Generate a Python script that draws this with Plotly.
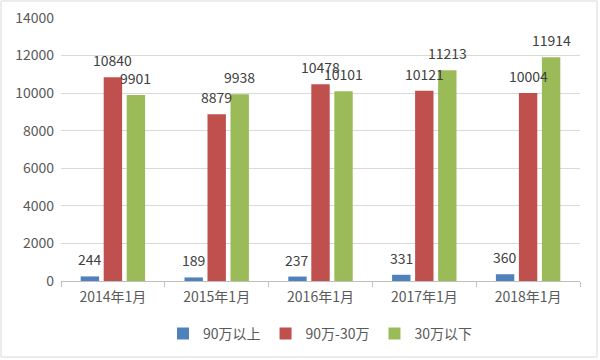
import plotly.graph_objects as go

categories = ["2014年1月", "2015年1月", "2016年1月", "2017年1月", "2018年1月"]
above_90 = [244, 189, 237, 331, 360]
mid_90_30 = [10840, 8879, 10478, 10121, 10004]
below_30 = [9901, 9938, 10101, 11213, 11914]
series_names = ["90万以上", "90万-30万", "30万以下"]
colors = ["#4F81BD", "#C0504D", "#9BBB59"]

W, H = 600, 360
ml, mr, mt, mb = 61, 20, 18, 79
font = "Noto Sans CJK SC, Noto Sans, sans-serif"
fs = 14
bargap, bargroupgap = 0.335, 0.2

pw = W - ml - mr
ph = H - mt - mb
slot_px = (1 - bargap) / 3 * pw / len(categories)

fig = go.Figure()
all_series = [above_90, mid_90_30, below_30]
for name, vals, c in zip(series_names, all_series, colors):
    fig.add_trace(go.Bar(
        x=categories, y=vals, name=name,
        marker=dict(color=c, line=dict(width=0)),
    ))

# data labels drawn on top of all bars
for si, vals in enumerate(all_series):
    for cat, v in zip(categories, vals):
        fig.add_annotation(x=cat, y=v, xref="x", yref="y", text=str(v),
                           showarrow=False, yanchor="bottom", xanchor="center",
                           xshift=(si - 1) * slot_px, yshift=5,
                           font=dict(size=fs, color="#404040", family=font))

fig.add_shape(type="rect", xref="paper", yref="paper",
              x0=(1 - ml) / pw, x1=(597 - ml) / pw,
              y0=-(357 - (H - mb)) / ph, y1=1 + (mt - 1) / ph,
              line=dict(color="#D9D9D9", width=1), layer="below")

fig.update_layout(
    width=W, height=H,
    margin=dict(l=ml, r=mr, t=mt, b=mb, autoexpand=False),
    paper_bgcolor="white", plot_bgcolor="white",
    barmode="group", bargap=bargap, bargroupgap=bargroupgap,
    font=dict(family=font, color="#595959", size=fs),
    showlegend=True,
    legend=dict(orientation="h", x=0.5, xanchor="center", y=-0.14, yanchor="top",
                font=dict(size=fs, color="#595959"), itemwidth=30,
                traceorder="normal"),
)
fig.update_xaxes(showgrid=False, showline=True, linecolor="#BFBFBF", linewidth=1,
                 ticks="outside", tickson="boundaries", ticklen=5, tickcolor="#BFBFBF",
                 ticklabelstandoff=3,
                 tickfont=dict(size=fs, color="#595959"))
fig.update_yaxes(range=[0, 14000], dtick=2000, tickformat="d", showgrid=True,
                 gridcolor="#D9D9D9", zeroline=False, showline=False,
                 ticklabelstandoff=6,
                 tickfont=dict(size=fs, color="#595959"))

fig.write_html("out.html", config={"displayModeBar": False},
               post_script="document.body.style.margin='0';")
